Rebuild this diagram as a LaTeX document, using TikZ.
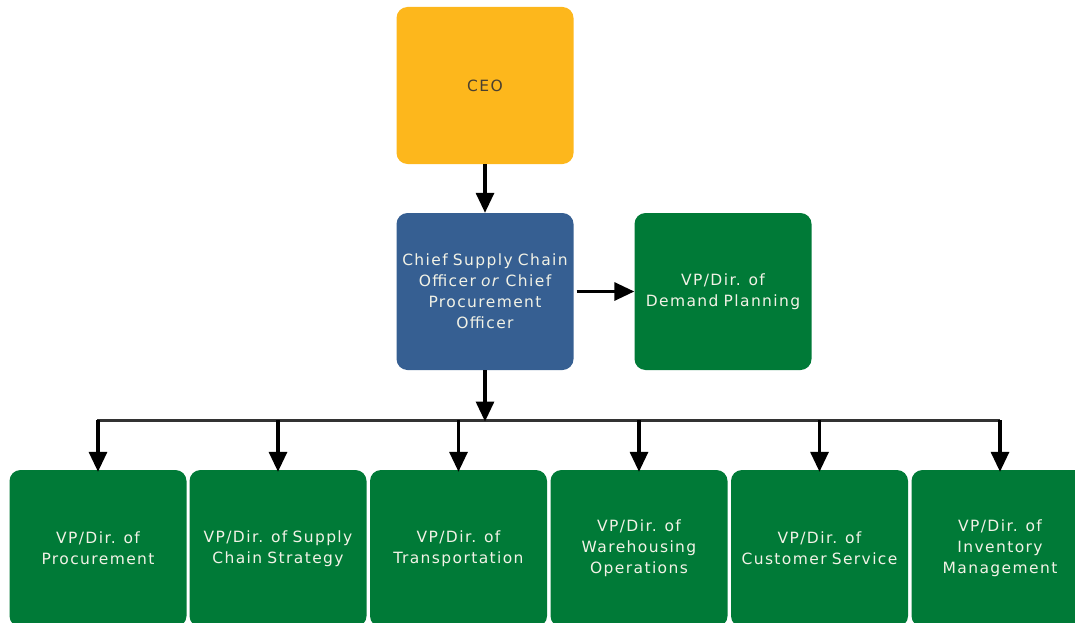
\documentclass[tikz,border=0pt]{standalone}
\usepackage{fontspec}
\setmainfont{DejaVu Sans}[LetterSpace=9]
\usetikzlibrary{arrows.meta}
\definecolor{ceoyellow}{HTML}{FDB71C}
\definecolor{cscoblue}{HTML}{365F92}
\definecolor{vpgreen}{HTML}{007A37}
\definecolor{ceotext}{HTML}{4A4030}
\definecolor{boxtext}{HTML}{F2F2E6}
\definecolor{busline}{HTML}{333333}
\begin{document}
\begin{tikzpicture}[x=1pt,y=-1pt,
  box/.style={rectangle, rounded corners=11pt, inner sep=0pt, minimum width=177pt, minimum height=157pt,
    text width=174pt, align=center, font=\fontsize{15.5}{21}\selectfont, text=boxtext},
  ceobox/.style={box, fill=ceoyellow, text=ceotext},
  bluebox/.style={box, fill=cscoblue},
  greenbox/.style={box, fill=vpgreen},
  conn/.style={line width=3.2pt, -{Triangle[length=20pt,width=18pt]}}
]
\useasboundingbox (0,0) rectangle (1075,623);
\clip (0,0) rectangle (1075,623);

\node[ceobox] (ceo) at (485,85.5) {CEO};
\node[bluebox] (csco) at (485,291.5) {Chief Supply Chain\\Officer \textit{or} Chief\\Procurement\\Officer};
\node[greenbox] (dem) at (723,291.5) {VP/Dir. of\\Demand Planning};

\node[greenbox] (b1) at (98,548.5) {VP/Dir. of\\Procurement};
\node[greenbox] (b2) at (278,548.5) {VP/Dir. of Supply\\Chain Strategy};
\node[greenbox] (b3) at (458.5,548.5) {VP/Dir. of\\Transportation};
\node[greenbox] (b4) at (639,548.5) {VP/Dir. of\\Warehousing\\Operations};
\node[greenbox] (b5) at (819.5,548.5) {VP/Dir. of\\Customer Service};
\node[greenbox] (b6) at (1000,548.5) {VP/Dir. of\\Inventory\\Management};

\coordinate (hub) at (485,420);
\coordinate (busL) at (97,420);
\coordinate (busR) at (1000,420);

\draw[conn] (ceo.south) -- (csco.north);
\draw[conn] ([xshift=3pt]csco.east) -- (dem.west);
\draw[line width=3pt, busline] (busL) -- (busR);
\draw[conn] (csco.south) -- ([yshift=-1.5pt]hub);
\foreach \b in {b1,b2,b3,b4,b5,b6}{
  \draw[conn] (\b.north |- hub) -- ([yshift=-2pt]\b.north);
}
\end{tikzpicture}
\end{document}
